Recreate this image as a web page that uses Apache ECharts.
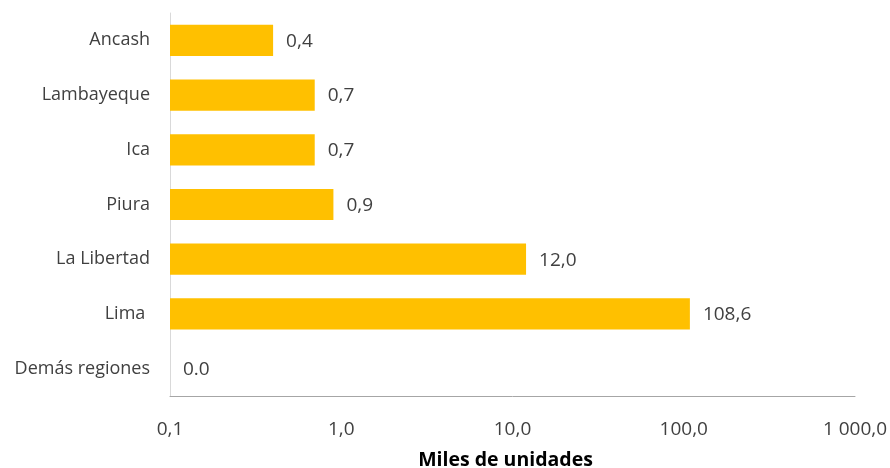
<!DOCTYPE html>
<html><head><meta charset="utf-8">
<script src="https://cdn.jsdelivr.net/npm/echarts@6/dist/echarts.min.js"></script>
<style>html,body{margin:0;padding:0;background:#fff}#c{width:890px;height:468px}</style>
</head><body><div id="c"></div>
<script>
const categories = ['Ancash','Lambayeque','Ica','Piura','La Libertad','Lima ','Demás regiones'];
const values = [0.4, 0.7, 0.7, 0.9, 12.0, 108.6, 0.0];
const axisTicks = [0.1, 1, 10, 100, 1000];
const axisTitle = 'Miles de unidades';

const AXIS_MIN = axisTicks[0];
const AXIS_MAX = axisTicks[axisTicks.length-1];
function fmt(v){
  const s = v.toFixed(1).split('.');
  const int = s[0].replace(/\B(?=(\d{3})+(?!\d))/g,' ');
  return int + ',' + s[1];
}
const FONT = 'Open Sans, Liberation Sans, sans-serif';
const TXT = '#404040';
const chart = echarts.init(document.getElementById('c'));
chart.setOption({
  animation:false,
  grid:{left:170,right:35,top:13,bottom:72,containLabel:false,outerBoundsMode:'none'},
  xAxis:{
    type:'log', logBase:10, min:AXIS_MIN, max:AXIS_MAX,
    axisLine:{show:true,lineStyle:{color:'#a6a6a6',width:1}},
    axisTick:{show:false},
    splitLine:{show:false},
    minorTick:{show:false},
    axisLabel:{formatter:v=>fmt(v),color:TXT,fontSize:19,fontFamily:FONT,margin:24},
    name:axisTitle, nameLocation:'middle', nameGap:54,
    nameTextStyle:{color:'#000',fontSize:19.5,fontWeight:'bold',fontFamily:FONT,padding:[0,14,0,0]}
  },
  yAxis:{
    type:'category', data:categories, inverse:true,
    axisLine:{show:true,lineStyle:{color:'#d9d9d9',width:1}},
    axisTick:{show:false},
    axisLabel:{color:TXT,fontSize:18,fontFamily:FONT,margin:20}
  },
  series:[{
    type:'custom',
    encode:{x:0,y:1},
    data: values.map((v,i)=>[v,i]),
    renderItem:function(params, api){
      const raw = api.value(0);
      const cat = api.value(1);
      const start = api.coord([AXIS_MIN, cat]);
      const end = api.coord([Math.max(raw, AXIS_MIN), cat]);
      const h = api.size([0,1])[1]*0.57;
      const label = raw > 0 ? fmt(raw) : raw.toFixed(1);
      return {type:'group', children:[
        {type:'rect', shape:{x:start[0], y:end[1]-h/2, width:end[0]-start[0], height:h},
         style:{fill:'#FFC000'}},
        {type:'text', style:{x:end[0]+13, y:end[1]+1, text:label, fill:TXT,
          font:'19px '+FONT, verticalAlign:'middle', align:'left'}}
      ]};
    }
  }]
});
</script></body></html>
